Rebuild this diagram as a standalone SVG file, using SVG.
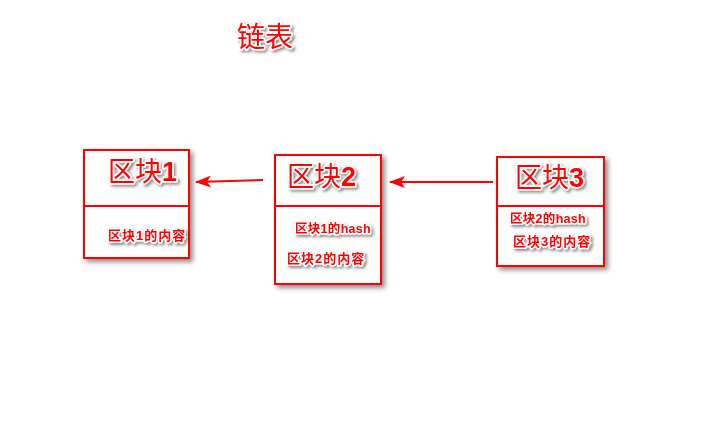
<svg xmlns="http://www.w3.org/2000/svg" width="726" height="428" viewBox="0 0 726 428">
<defs>
<filter id="sh" x="-20%" y="-20%" width="150%" height="150%">
<feDropShadow dx="3" dy="3" stdDeviation="2.5" flood-color="#000" flood-opacity="0.45"/>
</filter>
<filter id="tsh" x="-20%" y="-30%" width="150%" height="170%">
<feDropShadow dx="2" dy="2" stdDeviation="1.5" flood-color="#000" flood-opacity="0.45"/>
</filter>
<marker id="ah" viewBox="0 0 16 12" refX="15" refY="6" markerWidth="16" markerHeight="12" markerUnits="userSpaceOnUse" orient="auto">
<path d="M0,0 L16,6 L0,12 L4,6 Z" fill="#f00"/>
</marker>
</defs>
<style>
text{font-family:"Liberation Sans","Noto Sans CJK SC",sans-serif;fill:#f00;stroke:#fff;stroke-width:3px;paint-order:stroke;stroke-linejoin:round;filter:url(#tsh)}
.t{font-size:28px}
.h{font-size:27px}
.b{font-weight:bold}
.s{font-size:13px;font-weight:bold;letter-spacing:1px}
.s2{font-size:12.5px;font-weight:bold;letter-spacing:0.3px}
.box{fill:#fff;stroke:#f00;stroke-width:2;filter:url(#sh)}
.div{stroke:#f00;stroke-width:2}
.con{stroke:#f00;stroke-width:2;fill:none;marker-end:url(#ah)}
</style>
<rect width="726" height="428" fill="#fff"/>
<text class="t" x="237" y="47">链表</text>
<g id="block1">
<rect class="box" x="84" y="150" width="105" height="108"/>
<line class="div" x1="85" y1="206" x2="188" y2="206"/>
<text class="h" x="108" y="181">区块<tspan class="b">1</tspan></text>
<text class="s" x="108" y="240">区块1的内容</text>
</g>
<g id="block2">
<rect class="box" x="275" y="155" width="106" height="129"/>
<line class="div" x1="276" y1="206" x2="380" y2="206"/>
<text class="h" x="287" y="186">区块<tspan class="b">2</tspan></text>
<text class="s2" x="295" y="233">区块1的hash</text>
<text class="s" x="287" y="263">区块2的内容</text>
</g>
<g id="block3">
<rect class="box" x="497" y="157" width="107" height="109"/>
<line class="div" x1="498" y1="206" x2="603" y2="206"/>
<text class="h" x="515" y="187">区块<tspan class="b">3</tspan></text>
<text class="s2" x="510" y="223">区块2的hash</text>
<text class="s" x="513" y="246">区块3的内容</text>
</g>
<g id="connectors">
<line class="con" x1="263" y1="180" x2="196" y2="182"/>
<line class="con" x1="493" y1="182" x2="390" y2="182"/>
</g>
</svg>
